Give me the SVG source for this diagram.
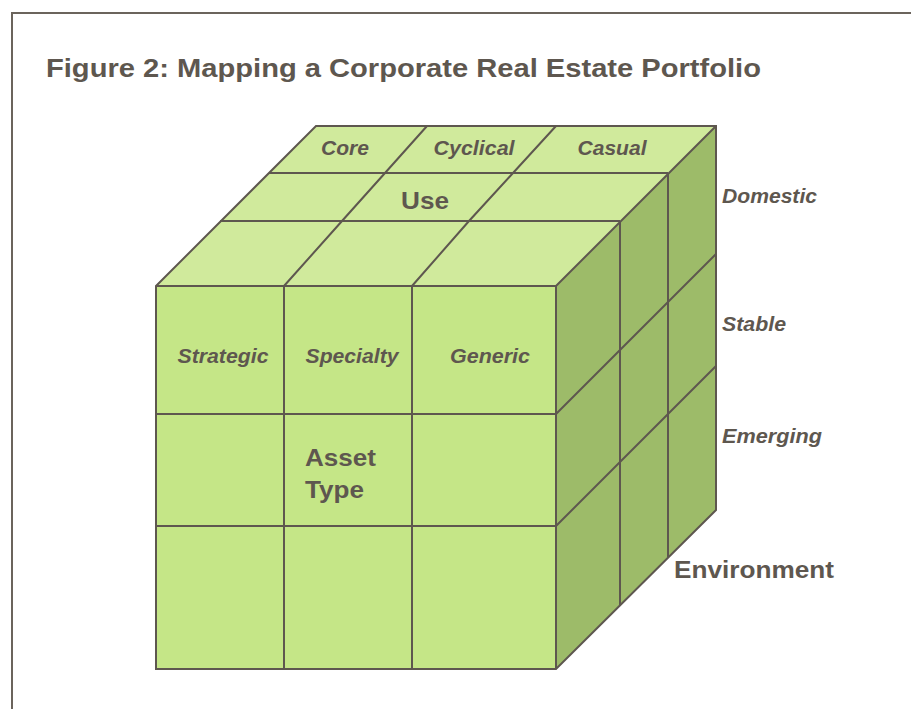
<svg xmlns="http://www.w3.org/2000/svg" width="911" height="709" viewBox="0 0 911 709">
<style>
.ln{fill:none;stroke:#5E574F;stroke-width:2;stroke-linejoin:miter}
.t{font-family:"Liberation Sans",Arial,sans-serif;fill:#5E574F;font-weight:bold}
.i{font-style:italic;font-size:20px}
.b{font-size:24px}
</style>
<rect width="911" height="709" fill="#FFFFFF"/>
<path d="M12 709 V13 H911" fill="none" stroke="#6B645C" stroke-width="2"/>
<text class="t" x="46" y="77" font-size="26" textLength="715" lengthAdjust="spacingAndGlyphs">Figure 2: Mapping a Corporate Real Estate Portfolio</text>
<g id="cube">
<g id="top-face">
<polygon points="156,286 316,126 716,126 556,286" fill="#D0EA9C"/>
</g>
<g id="side-face">
<polygon points="556,286 716,126 716,510 556,669" fill="#9DBB69"/>
</g>
<g id="front-face">
<rect x="156" y="286" width="400" height="383" fill="#C5E687"/>
</g>
</g>
<g id="connectors">
<path class="ln" d="M156 286 L316 126 H716 V510 L556 669 H156 Z"/>
<path class="ln" d="M156 286 H556 L716 126 M556 286 V669"/>
<path class="ln" d="M220 221 H620 M269 173 H668"/>
<path class="ln" d="M284 286 L342 221 L385 173 L427 126 M412 286 L469 221 L513 173 L556 126"/>
<path class="ln" d="M620 221 V605 M668 173 V557"/>
<path class="ln" d="M556 414 L716 254 M556 526 L716 366"/>
<path class="ln" d="M284 286 V669 M412 286 V669 M156 414 H556 M156 526 H556"/>
</g>
<g id="labels">
<text class="t i" x="345" y="155" text-anchor="middle" textLength="48" lengthAdjust="spacingAndGlyphs">Core</text>
<text class="t i" x="474" y="155" text-anchor="middle" textLength="81" lengthAdjust="spacingAndGlyphs">Cyclical</text>
<text class="t i" x="612" y="155" text-anchor="middle" textLength="69" lengthAdjust="spacingAndGlyphs">Casual</text>
<text class="t b" x="425" y="209" text-anchor="middle" textLength="48" lengthAdjust="spacingAndGlyphs">Use</text>
<text class="t i" x="722" y="203" textLength="95" lengthAdjust="spacingAndGlyphs">Domestic</text>
<text class="t i" x="722" y="331" textLength="64" lengthAdjust="spacingAndGlyphs">Stable</text>
<text class="t i" x="722" y="443" textLength="100" lengthAdjust="spacingAndGlyphs">Emerging</text>
<text class="t b" x="674" y="578" textLength="160" lengthAdjust="spacingAndGlyphs">Environment</text>
<text class="t i" x="223" y="363" text-anchor="middle" textLength="91" lengthAdjust="spacingAndGlyphs">Strategic</text>
<text class="t i" x="352" y="363" text-anchor="middle" textLength="93" lengthAdjust="spacingAndGlyphs">Specialty</text>
<text class="t i" x="490" y="363" text-anchor="middle" textLength="80" lengthAdjust="spacingAndGlyphs">Generic</text>
<text class="t b" x="305" y="466" textLength="71" lengthAdjust="spacingAndGlyphs">Asset</text>
<text class="t b" x="305" y="498" textLength="59" lengthAdjust="spacingAndGlyphs">Type</text>
</g>
</svg>
